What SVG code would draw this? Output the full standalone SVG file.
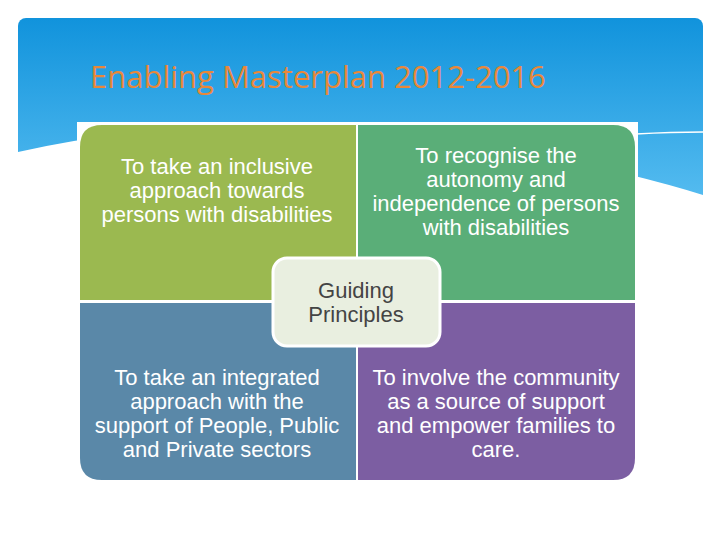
<svg xmlns="http://www.w3.org/2000/svg" width="720" height="540" viewBox="0 0 720 540">
<defs>
<linearGradient id="sky" x1="0" y1="0" x2="0" y2="1"><stop offset="0" stop-color="#1193dc"/><stop offset="1" stop-color="#5cc0f2"/></linearGradient>
<style>
.q{font-family:"Liberation Sans Narrow","Liberation Sans",Arial,sans-serif;font-size:22px;fill:#fff;text-anchor:middle}
.c{font-family:"Liberation Sans Narrow","Liberation Sans",Arial,sans-serif;font-size:22px;fill:#444;text-anchor:middle}
</style>
</defs>
<rect width="720" height="540" fill="#fff"/>
<rect x="18" y="18" width="685" height="200" rx="8" fill="url(#sky)"/>
<path d="M18,152 Q250,100 520,150 Q640,175 703,195 L703,540 L18,540 Z" fill="#fff"/>
<path d="M560,140 Q640,132 703,132" fill="none" stroke="#fff" stroke-width="1.5"/>
<text x="90" y="88" font-family="'Open Sans','Liberation Sans',sans-serif" font-size="31" fill="#e8883a">Enabling Masterplan 2012-2016</text>
<rect x="77" y="122" width="561" height="360" fill="#fff"/>
<g id="q1"><path d="M80,300 V147 Q80,125 102,125 H356 V300 Z" fill="#9bb950"/>
<text class="q" x="217" y="174">To take an inclusive</text><text class="q" x="217" y="198">approach towards</text><text class="q" x="217" y="222">persons with disabilities</text></g>
<g id="q2"><path d="M358,125 H613 Q635,125 635,147 V300 H358 Z" fill="#5aae78"/>
<text class="q" x="496" y="163">To recognise the</text><text class="q" x="496" y="187">autonomy and</text><text class="q" x="496" y="211">independence of persons</text><text class="q" x="496" y="235">with disabilities</text></g>
<g id="q3"><path d="M80,303 H356 V480 H102 Q80,480 80,458 Z" fill="#5a88a8"/>
<text class="q" x="217" y="385">To take an integrated</text><text class="q" x="217" y="409">approach with the</text><text class="q" x="217" y="433">support of People, Public</text><text class="q" x="217" y="457">and Private sectors</text></g>
<g id="q4"><path d="M358,303 H635 V458 Q635,480 613,480 H358 Z" fill="#7c5ea2"/>
<text class="q" x="496" y="385">To involve the community</text><text class="q" x="496" y="409">as a source of support</text><text class="q" x="496" y="433">and empower families to</text><text class="q" x="496" y="457">care.</text></g>
<g id="center"><rect x="273" y="258" width="167" height="88" rx="14" fill="#e9efe0" stroke="#fff" stroke-width="3"/>
<text class="c" x="356" y="298">Guiding</text><text class="c" x="356" y="322">Principles</text></g>
</svg>
